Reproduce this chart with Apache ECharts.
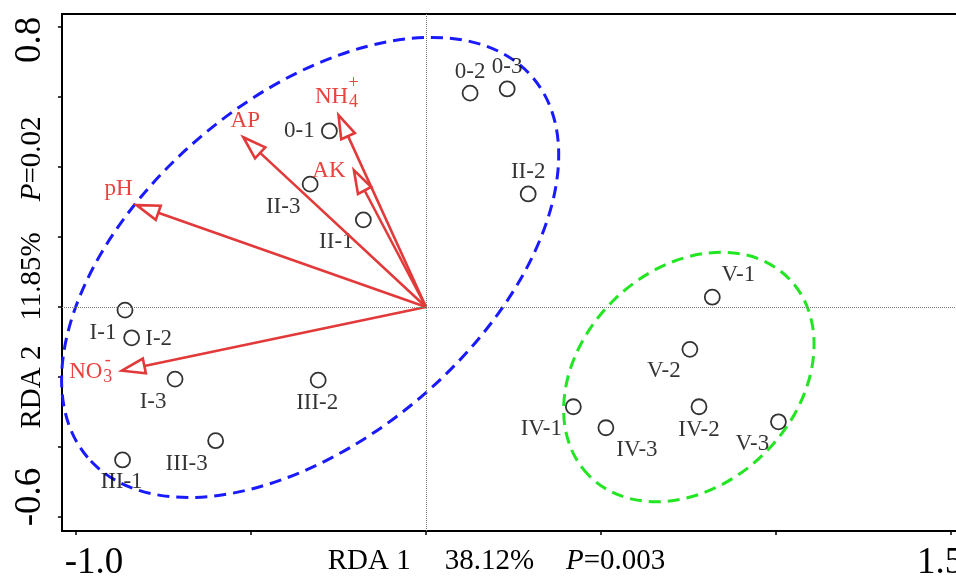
<!DOCTYPE html>
<html>
<head>
<meta charset="utf-8">
<script src="https://cdn.jsdelivr.net/npm/echarts@6/dist/echarts.min.js"></script>
<style>
html, body { margin: 0; padding: 0; background: #fff; }
#main { width: 956px; height: 577px; }
</style>
</head>
<body>
<div id="main"></div>
<script>
// sample scores
let sampleNames = ['0-1', '0-2', '0-3', 'I-1', 'I-2', 'I-3', 'II-1', 'II-2', 'II-3',
    'III-1', 'III-2', 'III-3', 'IV-1', 'IV-2', 'IV-3', 'V-1', 'V-2', 'V-3'];
let sampleX = [-0.276, 0.126, 0.232, -0.86, -0.841, -0.717, -0.179, 0.292, -0.331,
    -0.867, -0.308, -0.601, 0.421, 0.78, 0.514, 0.818, 0.754, 1.007];
let sampleY = [0.503, 0.611, 0.623, -0.009, -0.088, -0.206, 0.249, 0.323, 0.351,
    -0.437, -0.209, -0.382, -0.285, -0.285, -0.345, 0.028, -0.121, -0.328];

// environmental factors (arrow tips)
let envNames = ['pH', 'AP', 'NH4+', 'AK', 'NO3-'];
let envX = [-0.827, -0.522, -0.25, -0.206, -0.869];
let envY = [0.291, 0.485, 0.548, 0.391, -0.182];

// group ellipses
let ellipseCx = [-0.331, 0.751];
let ellipseCy = [0.113, -0.2];
let ellipseA = [0.836, 0.401];
let ellipseB = [0.487, 0.307];
let ellipseAngle = [40.5, 44.6];

// axis ticks / labels
let xTicks = [-1.0, -0.5, 0, 0.5, 1.0, 1.5];
let xLabels = [-1.0, 1.5];
let yTicks = [-0.6, -0.4, -0.2, 0, 0.2, 0.4, 0.6, 0.8];
let yLabels = [-0.6, 0.8];

const SERIF = '"Liberation Serif", "Times New Roman", serif';
const RED = '#e23a3a';
const RED_TEXT = '#e8433f';
const ellipseColors = ['#1a1aff', '#22e622'];

// label placement around the circles
let labelOffset = {
    '0-1': [-30, 0], '0-2': [0, -21], '0-3': [0, -22],
    'I-1': [-22, 23], 'I-2': [27, 1], 'I-3': [-22, 23],
    'II-1': [-27, 22], 'II-2': [0, -22], 'II-3': [-27, 23],
    'III-1': [-1, 22], 'III-2': [-1, 23], 'III-3': [-29, 23],
    'IV-1': [-32, 22], 'IV-2': [0, 23], 'IV-3': [31, 22],
    'V-1': [26, -22], 'V-2': [-26, 22], 'V-3': [-26, 22]
};

let envLabel = {
    'pH': {main: 'pH', dx: -18, dy: -16.5},
    'AP': {main: 'AP', dx: 2, dy: -16},
    'NH4+': {main: 'NH', dx: -7, dy: -18, sub: '4', sup: '+', sdx: 15, subdy: -13, supdy: -32},
    'AK': {main: 'AK', dx: -25, dy: 0.5},
    'NO3-': {main: 'NO', dx: -36, dy: 1.5, sub: '3', sup: '-', sdx: -14, subdy: 7, supdy: -10}
};

let chartDom = document.getElementById('main');
let myChart = echarts.init(chartDom);

function txt(x, y, s, size) {
    return {
        type: 'text', x: x, y: y,
        style: {
            text: s, fill: RED_TEXT, font: size + 'px ' + SERIF,
            align: 'center', verticalAlign: 'middle',
            textAlign: 'center', textVerticalAlign: 'middle'
        }
    };
}

function renderArrow(params, api) {
    let o = api.coord([0, 0]);
    let t = api.coord([api.value(0), api.value(1)]);
    let dx = t[0] - o[0], dy = t[1] - o[1];
    let len = Math.sqrt(dx * dx + dy * dy);
    let ux = dx / len, uy = dy / len;
    let hl = 23, hw = 7.5;
    let bx = t[0] - ux * hl, by = t[1] - uy * hl;
    let px = -uy * hw, py = ux * hw;
    let lab = envLabel[envNames[params.dataIndex]];
    let children = [
        {type: 'line', shape: {x1: o[0], y1: o[1], x2: bx, y2: by},
            style: {stroke: RED, lineWidth: 2.6}},
        {type: 'polygon', shape: {points: [[t[0], t[1]], [bx + px, by + py], [bx - px, by - py]]},
            style: {fill: '#fff', stroke: RED, lineWidth: 2.6}},
        txt(t[0] + lab.dx, t[1] + lab.dy, lab.main, 23)
    ];
    if (lab.sub) {
        children.push(txt(t[0] + lab.sdx, t[1] + lab.subdy, lab.sub, 18));
        children.push(txt(t[0] + lab.sdx, t[1] + lab.supdy, lab.sup, 18));
    }
    return {type: 'group', children: children};
}

function renderEllipse(params, api) {
    let c = api.coord([api.value(0), api.value(1)]);
    let s = api.size([api.value(2), api.value(3)]);
    return {
        type: 'ellipse', x: c[0], y: c[1],
        rotation: api.value(4) * Math.PI / 180,
        shape: {cx: 0, cy: 0, rx: s[0], ry: s[1]},
        style: {fill: 'none', stroke: ellipseColors[params.dataIndex], lineWidth: 3, lineDash: [12, 7]}
    };
}

let nameFont = {fontFamily: SERIF, fontSize: 29, color: '#000'};

option = {
    animation: false,
    grid: {
        left: 62, right: -9, top: 14, bottom: 46,
        outerBoundsMode: 'none', containLabel: false,
        show: true, borderColor: '#000', borderWidth: 2
    },
    xAxis: {
        type: 'value', min: -1.04, max: 1.54,
        axisLine: {show: true, onZero: false, lineStyle: {color: '#000', width: 2}},
        axisTick: {show: true, customValues: xTicks, length: 4, lineStyle: {color: '#000', width: 1.5}},
        axisLabel: {
            customValues: xLabels, margin: 14,
            formatter: function (v) { return v < 0 ? '{l|-1.0}' : '{r|1.5}'; },
            rich: {
                l: {fontFamily: SERIF, fontSize: 37, color: '#000', padding: [0, 0, 0, 36]},
                r: {fontFamily: SERIF, fontSize: 37, color: '#000', padding: [0, 22, 0, 0]}
            }
        },
        splitLine: {show: false},
        name: '{a|RDA 1}{b|38.12%}{i|P}{t|=0.003}',
        nameLocation: 'middle', nameGap: 16, nameMoveOverlap: false,
        nameTextStyle: {
            rich: {
                a: nameFont,
                b: Object.assign({padding: [0, 32, 0, 34]}, nameFont),
                i: Object.assign({fontStyle: 'italic'}, nameFont),
                t: Object.assign({padding: [0, 34, 0, 0]}, nameFont)
            }
        }
    },
    yAxis: {
        type: 'value', min: -0.64, max: 0.8371,
        axisLine: {show: true, onZero: false, lineStyle: {color: '#000', width: 2}},
        axisTick: {show: true, customValues: yTicks, length: 4, lineStyle: {color: '#000', width: 1.5}},
        axisLabel: {
            customValues: yLabels, margin: 13, rotate: 90,
            formatter: function (v) { return v > 0 ? '{t|0.8}' : '{b|-0.6}'; },
            rich: {
                t: {fontFamily: SERIF, fontSize: 37, color: '#000', padding: [0, 26, 0, 0]},
                b: {fontFamily: SERIF, fontSize: 37, color: '#000', padding: [0, 0, 0, 40]}
            }
        },
        splitLine: {show: false},
        name: '{a|RDA 2}{b|11.85%}{i|P}{t|=0.02}',
        nameLocation: 'middle', nameGap: 15, nameMoveOverlap: false,
        nameTextStyle: {
            rich: {
                a: nameFont,
                b: Object.assign({padding: [0, 31, 0, 25]}, nameFont),
                i: Object.assign({fontStyle: 'italic'}, nameFont),
                t: Object.assign({padding: [0, 0, 0, 0]}, nameFont)
            }
        }
    },
    series: [
        {
            type: 'custom', silent: true,
            data: ellipseCx.map((cx, i) => [cx, ellipseCy[i], ellipseA[i], ellipseB[i], ellipseAngle[i]]),
            encode: {x: 0, y: 1},
            renderItem: renderEllipse,
            z: 1
        },
        {
            type: 'scatter', silent: true,
            symbol: 'circle', symbolSize: 15,
            itemStyle: {color: 'rgba(0,0,0,0)', borderColor: '#000', borderWidth: 1.8},
            label: {
                show: true, position: 'inside', formatter: '{b}',
                color: '#000', textBorderWidth: 0, fontFamily: SERIF, fontSize: 23
            },
            data: sampleNames.map((n, i) => ({name: n, value: [sampleX[i], sampleY[i]], label: {offset: labelOffset[n]}})),
            markLine: {
                silent: true, symbol: 'none', label: {show: false},
                lineStyle: {type: 'dotted', color: '#777', width: 1},
                data: [{xAxis: 0}, {yAxis: 0}]
            },
            z: 3
        },
        {
            type: 'custom', silent: true,
            data: envX.map((x, i) => [x, envY[i]]),
            encode: {x: 0, y: 1},
            renderItem: renderArrow,
            z: 4
        }
    ]
};

option && myChart.setOption(option);
</script>
</body>
</html>
